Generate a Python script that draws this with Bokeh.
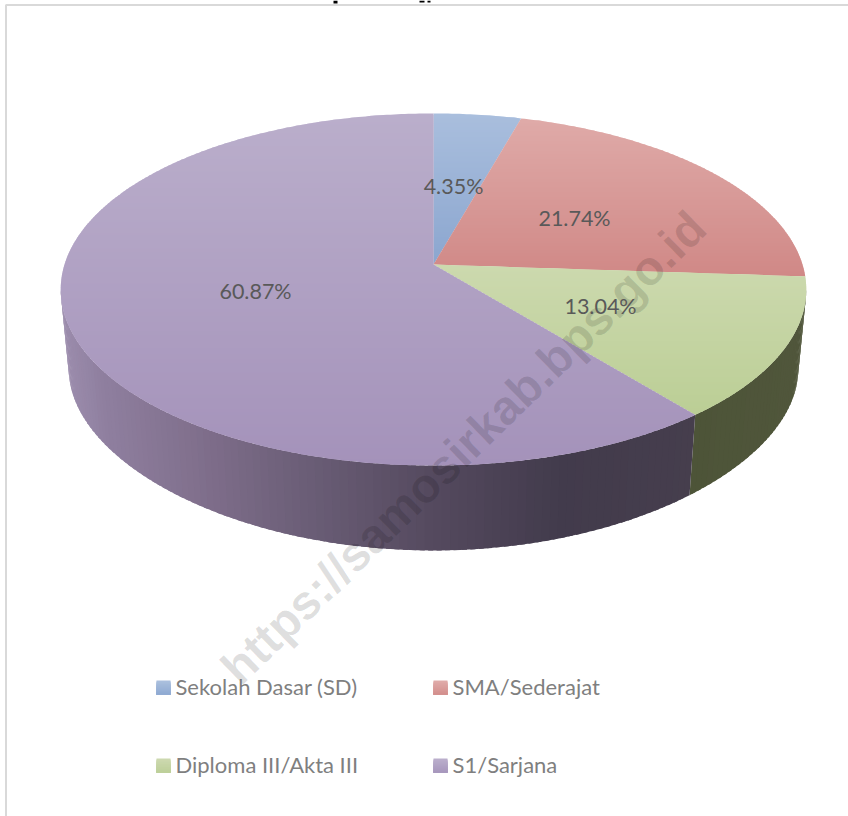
from bokeh.plotting import figure
from bokeh.embed import file_html
from bokeh.resources import INLINE
from bokeh.core.properties import value
from bokeh.models import BoxAnnotation
import math

categories = ["Sekolah Dasar (SD)", "SMA/Sederajat", "Diploma III/Akta III", "S1/Sarjana"]
percent = [4.35, 21.74, 13.04, 60.87]
watermark = "https://samosirkab.bps.go.id"

top_light = ["#a9bedd", "#dfaaa8", "#ccd9ae", "#baaecb"]
top_dark = ["#8ba6cf", "#d08886", "#bbce95", "#a492ba"]
swatch_light = ["#abc0de", "#e0acaa", "#cdd9b0", "#bbafcc"]
swatch_dark = ["#8faad2", "#d38f8d", "#bdcf99", "#a797bd"]
wall_stops = {
    2: [(691, "#4d5438"), (800, "#50563b")],
    3: [(60, "#9c8dad"), (100, "#8f7f9f"), (200, "#7f6e8b"), (300, "#6b5e77"), (433, "#54495e"), (560, "#423b4c"), (695, "#463e4d")],
}

CX, CY = 433.0, 264.0
A, B, K = 369.0, 172.5, 0.142
A2, B2, K2, Y2 = 361.0, 159.4, 0.22, 345.6


def top_pt(t, r=1.0):
    X, Y = math.sin(t) * r, math.cos(t) * r
    w = 1 + K * Y
    return CX + A * X / w, CY - B * Y / w


def low_pt(t):
    X, Y = math.sin(t), math.cos(t)
    return CX + A2 * X / (1 + K * Y), Y2 - B2 * Y / (1 + K2 * Y)


def hex2(c):
    return [int(c[i:i + 2], 16) for i in (1, 3, 5)]


def mix(a, b, f):
    f = max(0.0, min(1.0, f))
    pa, pb = hex2(a), hex2(b)
    return "#%02x%02x%02x" % tuple(round(pa[i] + (pb[i] - pa[i]) * f) for i in range(3))


def stops_color(stops, x):
    if x <= stops[0][0]:
        return stops[0][1]
    for (x0, c0), (x1, c1) in zip(stops, stops[1:]):
        if x <= x1:
            return mix(c0, c1, (x - x0) / (x1 - x0))
    return stops[-1][1]


def clip(poly, ymin, ymax):
    def half(pts, inside, cross):
        out = []
        for i, p in enumerate(pts):
            q = pts[(i + 1) % len(pts)]
            if inside(p):
                out.append(p)
            if inside(p) != inside(q):
                out.append(cross(p, q))
        return out

    def cr(yv):
        return lambda p, q: (p[0] + (q[0] - p[0]) * (yv - p[1]) / (q[1] - p[1]), yv)

    pts = half(poly, lambda p: p[1] >= ymin, cr(ymin))
    if pts:
        pts = half(pts, lambda p: p[1] <= ymax, cr(ymax))
    return pts


total = sum(percent)
edges = [0.0]
for v in percent:
    edges.append(edges[-1] + v / total * 2 * math.pi)

p = figure(width=848, height=816, x_range=(0, 848), y_range=(816, 0),
           toolbar_location=None, output_backend="svg", margin=(0, 0, 0, 0),
           min_border=0, outline_line_color=None, background_fill_color="white",
           border_fill_color="white")
p.xaxis.visible = False
p.yaxis.visible = False
p.grid.visible = False

# frame
p.add_layout(BoxAnnotation(left=5.5, right=900, top=4.5, bottom=900, fill_alpha=0,
                           line_color="#d9d9d9", line_alpha=1, line_width=2))

# the only remains of the cut-off title: descender stubs at the top edge
p.quad(left=[333, 419, 427], right=[337, 424, 430], top=[0, 0, 0], bottom=[3, 2, 2],
       fill_color="#000000", line_color=None)

# side wall: visible front part of the rim, slice by slice
xs, ys, cs = [], [], []
t0 = math.acos(-K)
t1 = 2 * math.pi - t0
for j in range(len(percent)):
    lo, hi = max(t0, edges[j]), min(t1, edges[j + 1])
    if hi <= lo:
        continue
    n = max(2, int((hi - lo) * 50))
    for i in range(n):
        a = lo + (hi - lo) * i / n
        b = min(hi, lo + (hi - lo) * (i + 1.6) / n)
        tx = top_pt((a + b) / 2)[0]
        pts = [top_pt(a), top_pt(b), low_pt(b), low_pt(a)]
        xs.append([q[0] for q in pts])
        ys.append([q[1] for q in pts])
        cs.append(stops_color(wall_stops[j], tx))
p.patches(xs, ys, fill_color=cs, line_color=None)

# top face, in horizontal bands per slice
xs, ys, cs = [], [], []
for j in range(len(percent)):
    m = max(6, int((edges[j + 1] - edges[j]) * 90))
    poly = [(CX, CY)] + [top_pt(edges[j] + (edges[j + 1] - edges[j]) * i / m) for i in range(m + 1)]
    y_lo = min(q[1] for q in poly)
    y_hi = max(q[1] for q in poly)
    y = y_lo
    while y < y_hi:
        band = clip(poly, y, y + 3.0)
        if len(band) >= 3:
            xs.append([q[0] for q in band])
            ys.append([q[1] for q in band])
            cs.append(mix(top_light[j], top_dark[j], (y - y_lo) / (y_hi - y_lo)))
        y += 2.0
p.patches(xs, ys, fill_color=cs, line_color=None)

# watermark
p.text([463], [447], text=[watermark], angle=[44.2], angle_units="deg",
       text_font=value("Liberation Sans"), text_font_style="bold", text_font_size="48px",
       text_color="#000000", text_alpha=0.13, text_align="center", text_baseline="middle")

# data labels
label_x = [453, 574, 600, 255]
label_y = [185, 217, 305, 290]
p.text(label_x, label_y, text=["%.2f%%" % v for v in percent],
       text_font=value("Lato"), text_font_size="21.5px", text_color="#595959",
       text_align="center", text_baseline="middle")

# legend
sw_x = [156, 433, 156, 433]
sw_y = [680, 680, 758, 758]
xs, ys, cs = [], [], []
for j in range(4):
    for i in range(14):
        xs.append([sw_x[j], sw_x[j] + 14, sw_x[j] + 14, sw_x[j]])
        ys.append([sw_y[j] + i, sw_y[j] + i, sw_y[j] + 14, sw_y[j] + 14])
        cs.append(mix(swatch_light[j], swatch_dark[j], i / 13))
p.patches(xs, ys, fill_color=cs, line_color=None)
p.text([v + 19 for v in sw_x], [v + 6 for v in sw_y], text=categories,
       text_font=value("Lato"), text_font_size="22px", text_color="#7f7f7f",
       text_align="left", text_baseline="middle")

open("out.html", "w").write(file_html(p, INLINE))
